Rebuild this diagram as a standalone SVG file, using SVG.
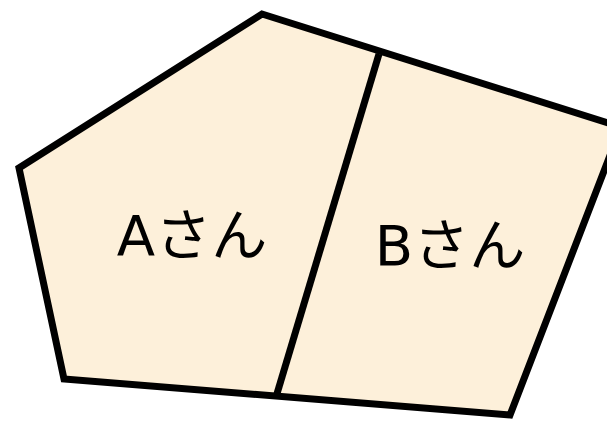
<svg xmlns="http://www.w3.org/2000/svg" width="607" height="422" viewBox="0 0 607 422">
<style>
.shape{fill:#FDF0DA;stroke:#000;stroke-width:7;stroke-linejoin:miter}
.lbl{font-family:"DejaVu Sans","Noto Sans CJK JP",sans-serif;font-size:56px;fill:#000;text-anchor:middle}
</style>
<g id="pentagon">
<polygon class="shape" points="262,14 621,127 510,415 64,379 19,168"/>
</g>
<g id="connectors">
<line x1="379" y1="54" x2="276" y2="397" stroke="#000" stroke-width="7"/>
</g>
<g id="nodeA"><text class="lbl" x="192" y="255">Aさん</text></g>
<g id="nodeB"><text class="lbl" x="450" y="265">Bさん</text></g>
</svg>
